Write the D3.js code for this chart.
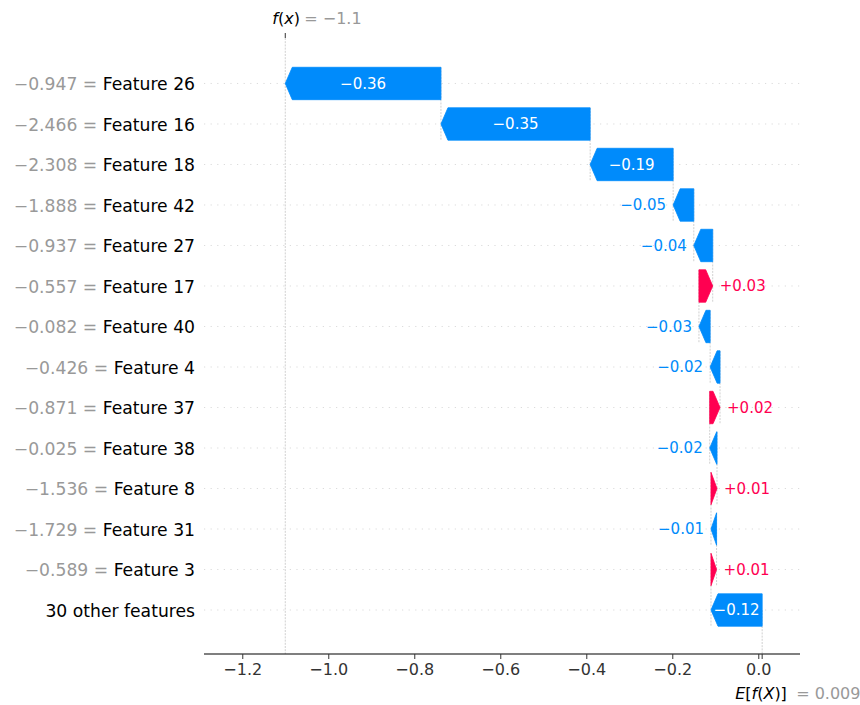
<!DOCTYPE html>
<html>
<head>
<meta charset="utf-8">
<script src="https://cdn.jsdelivr.net/npm/d3@7"></script>
<style>
  body { margin: 0; background: #fff; }
  svg { font-family: "DejaVu Sans", sans-serif; }
</style>
</head>
<body>
<svg id="chart" width="860" height="705"></svg>
<script>
// Waterfall of per-feature contributions, top row first.
const featureNames = [
  "Feature 26", "Feature 16", "Feature 18", "Feature 42", "Feature 27",
  "Feature 17", "Feature 40", "Feature 4", "Feature 37", "Feature 38",
  "Feature 8", "Feature 31", "Feature 3", "30 other features"
];
const featureValues = [
  -0.947, -2.466, -2.308, -1.888, -0.937,
  -0.557, -0.082, -0.426, -0.871, -0.025,
  -1.536, -1.729, -0.589, null
];
const contributions = [
  -0.362, -0.347, -0.193, -0.048, -0.044,
   0.032, -0.026, -0.023,  0.024, -0.017,
   0.014, -0.013,  0.013, -0.119
];
const baseValue = 0.009;
const xTickValues = [-1.2, -1.0, -0.8, -0.6, -0.4, -0.2, 0.0];

const BLUE = "#008bfb", RED = "#ff0051";
const fontSize = 16;
const rowFontSize = 17.2;

const svg = d3.select("#chart");
const plot = { left: 204, right: 800, top: 38, bottom: 654 };
const n = featureNames.length;

const x = d3.scaleLinear().domain([-1.289, 0.097]).range([plot.left, plot.right]);
// row 0 is the top row; rows are spaced one unit apart
const y = d3.scaleLinear().domain([-1.123, n - 1 + 1.086]).range([plot.top, plot.bottom]);
const barH = 0.8;
const headLen = x.invert(x(0) + 7) - 0; // arrow head length in data units

// running totals, building upward from the base value
const rows = [];
let running = baseValue;
for (let i = n - 1; i >= 0; i--) {
  const start = running, end = running + contributions[i];
  rows[i] = { i, start, end, v: contributions[i], name: featureNames[i], fv: featureValues[i] };
  running = end;
}
const fx = running;

const fmtVal = d3.format(".3f");
const trim = s => s.replace(/\.?0+$/, "");
const fmtBar = d3.format("+.2f");
const fmtTick = d3.format(".1f");

// horizontal dotted row guides
svg.append("g").selectAll("line").data(rows).join("line")
  .attr("x1", plot.left).attr("x2", plot.right)
  .attr("y1", d => y(d.i)).attr("y2", d => y(d.i))
  .attr("stroke", "#cccccc").attr("stroke-width", 0.7)
  .attr("stroke-dasharray", "1.2,5.4");

// vertical connectors between consecutive bars
svg.append("g").selectAll("line").data(rows.filter(d => d.i < n - 1)).join("line")
  .attr("x1", d => x(d.start)).attr("x2", d => x(d.start))
  .attr("y1", d => y(d.i - barH / 2)).attr("y2", d => y(d.i + 1 + barH / 2))
  .attr("stroke", "#bbbbbb").attr("stroke-width", 0.7)
  .attr("stroke-dasharray", "2,1.2");

// f(x) line across the whole plot, E[f(X)] line up to the bottom row
svg.append("line")
  .attr("x1", x(fx)).attr("x2", x(fx)).attr("y1", plot.top).attr("y2", plot.bottom)
  .attr("stroke", "#bbbbbb").attr("stroke-width", 0.7).attr("stroke-dasharray", "2,1.2");
svg.append("line")
  .attr("x1", x(baseValue)).attr("x2", x(baseValue))
  .attr("y1", plot.bottom - (plot.bottom - plot.top) / n).attr("y2", plot.bottom)
  .attr("stroke", "#bbbbbb").attr("stroke-width", 0.7).attr("stroke-dasharray", "2,1.2");

// arrow-shaped bars
function arrowPath(d) {
  const dir = d.v < 0 ? -1 : 1;
  const hl = Math.min(Math.abs(d.v), headLen);
  const neck = d.end - dir * hl;
  const t = d.i - barH / 2, b = d.i + barH / 2;
  const pts = [[d.start, t], [neck, t], [d.end, d.i], [neck, b], [d.start, b]];
  return "M" + pts.map(p => [x(p[0]), y(p[1])].join(",")).join("L") + "Z";
}
svg.append("g").selectAll("path").data(rows).join("path")
  .attr("d", arrowPath)
  .attr("fill", d => d.v < 0 ? BLUE : RED)
  .attr("stroke", d => d.v < 0 ? BLUE : RED)
  .attr("stroke-width", 0.8)
  .attr("stroke-linejoin", "miter");

// value labels: inside the bar when they fit, otherwise past the arrow tip
const labels = svg.append("g").selectAll("text").data(rows).join("text")
  .attr("font-size", fontSize - 1)
  .attr("y", d => y(d.i)).attr("dy", "0.35em")
  .text(d => fmtBar(d.v).replace("+", d.v < 0 ? "" : "+"));
labels.each(function (d) {
  const w = this.getComputedTextLength();
  const barW = Math.abs(x(d.end) - x(d.start));
  const sel = d3.select(this);
  if (w < barW - 2) {
    sel.attr("x", (x(d.start) + x(d.end)) / 2).attr("text-anchor", "middle").attr("fill", "#fff");
  } else if (d.v < 0) {
    sel.attr("x", x(d.end) - 7).attr("text-anchor", "end").attr("fill", BLUE);
  } else {
    sel.attr("x", x(d.end) + 7).attr("text-anchor", "start").attr("fill", RED);
  }
});

// row labels
const rowLabels = svg.append("g").selectAll("text").data(rows).join("text")
  .attr("x", 195).attr("y", d => y(d.i) + 0.5).attr("dy", "0.35em")
  .attr("text-anchor", "end").attr("font-size", rowFontSize);
rowLabels.filter(d => d.fv !== null).append("tspan")
  .attr("fill", "#999999").text(d => fmtVal(d.fv) + " = ");
rowLabels.append("tspan").attr("fill", "#000").text(d => d.name);

// bottom axis
const xAxis = svg.append("g").attr("transform", `translate(0,${plot.bottom})`)
  .call(d3.axisBottom(x).tickValues(xTickValues).tickFormat(fmtTick).tickSize(5).tickPadding(5));
xAxis.select(".domain").attr("stroke", "#000").attr("stroke-width", 1.2).attr("d", `M${plot.left},0H${plot.right}`);
xAxis.selectAll(".tick line").attr("stroke", "#333");
xAxis.selectAll(".tick text").attr("font-size", fontSize).attr("fill", "#333").attr("font-family", "DejaVu Sans");
// extra tick at the base value
svg.append("line").attr("x1", x(baseValue)).attr("x2", x(baseValue))
  .attr("y1", plot.bottom).attr("y2", plot.bottom + 5).attr("stroke", "#333");

// base value label
const eLab = svg.append("text").attr("x", x(baseValue) - 27).attr("y", 699).attr("font-size", fontSize);
eLab.append("tspan").attr("font-style", "italic").attr("fill", "#000").text("E");
eLab.append("tspan").attr("fill", "#000").text("[");
eLab.append("tspan").attr("font-style", "italic").attr("fill", "#000").text("f");
eLab.append("tspan").attr("fill", "#000").text("(");
eLab.append("tspan").attr("font-style", "italic").attr("fill", "#000").text("X");
eLab.append("tspan").attr("fill", "#000").text(")]");
svg.append("text").attr("x", x(baseValue) + 34).attr("y", 699).attr("font-size", fontSize)
  .attr("fill", "#999999").text("= " + trim(fmtVal(baseValue)));

// f(x) tick and label on top
svg.append("line").attr("x1", x(fx)).attr("x2", x(fx))
  .attr("y1", plot.top - 5).attr("y2", plot.top).attr("stroke", "#333");
const fLab = svg.append("text").attr("x", x(fx) - 13).attr("y", 24).attr("font-size", fontSize);
fLab.append("tspan").attr("font-style", "italic").attr("fill", "#000").text("f");
fLab.append("tspan").attr("fill", "#000").text("(");
fLab.append("tspan").attr("font-style", "italic").attr("fill", "#000").text("x");
fLab.append("tspan").attr("fill", "#000").text(")");
svg.append("text").attr("x", x(fx) + 19).attr("y", 24).attr("font-size", fontSize)
  .attr("fill", "#999999").text("= " + trim(fmtVal(fx)));
</script>
</body>
</html>
